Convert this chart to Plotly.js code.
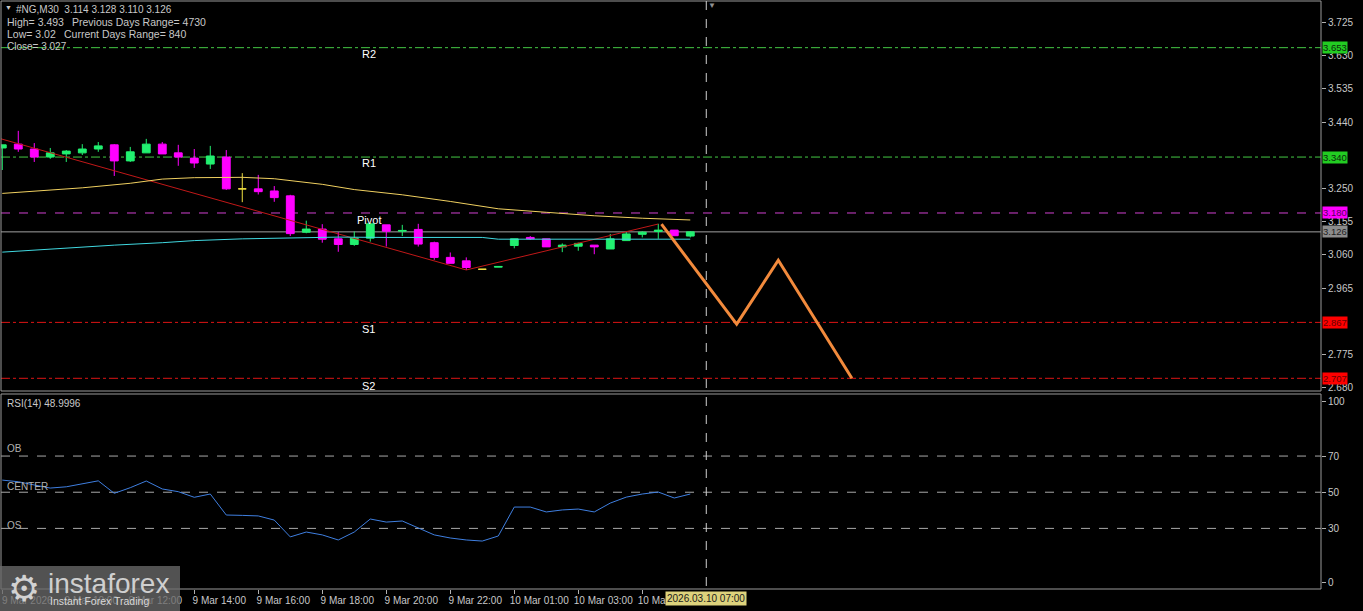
<!DOCTYPE html>
<html>
<head>
<meta charset="utf-8">
<script src="https://cdn.plot.ly/plotly-3.0.1.min.js"></script>
<style>
html,body{margin:0;padding:0;background:#000;}
#chart{width:1363px;height:611px;}
</style>
</head>
<body>
<div id="chart"></div>
<script>
// ---------- DATA ----------
const candleIdx = [0,1,2,3,4,5,6,7,8,9,10,11,12,13,14,15,16,17,18,19,20,21,22,23,24,25,26,27,28,29,30,31,32,33,34,35,36,37,38,39,40,41,42,43];
const opens  = [3.366,3.377,3.363,3.340,3.349,3.352,3.363,3.375,3.329,3.352,3.377,3.352,3.337,3.320,3.340,3.249,3.249,3.243,3.229,3.125,3.134,3.106,3.090,3.108,3.146,3.128,3.133,3.095,3.053,3.043,3.019,3.025,3.087,3.110,3.106,3.083,3.085,3.088,3.077,3.101,3.119,3.127,3.131,3.114];
const highs  = [3.375,3.415,3.380,3.366,3.360,3.377,3.383,3.377,3.369,3.392,3.383,3.375,3.363,3.372,3.360,3.294,3.289,3.257,3.232,3.158,3.148,3.125,3.127,3.149,3.146,3.146,3.149,3.098,3.067,3.053,3.019,3.027,3.106,3.114,3.106,3.093,3.095,3.088,3.120,3.127,3.128,3.149,3.131,3.128];
const lows   = [3.303,3.355,3.326,3.335,3.326,3.346,3.355,3.286,3.326,3.352,3.349,3.315,3.309,3.306,3.246,3.211,3.233,3.212,3.114,3.122,3.095,3.069,3.086,3.098,3.084,3.114,3.084,3.046,3.036,3.017,3.019,3.025,3.079,3.103,3.083,3.068,3.072,3.062,3.077,3.101,3.110,3.106,3.115,3.110];
const closes = [3.375,3.363,3.340,3.352,3.357,3.363,3.372,3.329,3.355,3.377,3.349,3.340,3.323,3.343,3.249,3.249,3.241,3.224,3.121,3.134,3.105,3.090,3.108,3.149,3.128,3.130,3.091,3.053,3.036,3.024,3.019,3.027,3.106,3.106,3.083,3.088,3.093,3.083,3.106,3.120,3.125,3.131,3.115,3.126];

const slowMaIdx = [0,3,5,8,10,12,15,17,20,22,25,28,31,34,37,40,43];
const slowMaVal = [3.236,3.246,3.252,3.265,3.277,3.281,3.282,3.278,3.262,3.247,3.232,3.213,3.192,3.182,3.172,3.165,3.160];
const fastMaIdx = [0,2,5,7,10,12,15,18,21,24,27,30,31,43];
const fastMaVal = [3.068,3.074,3.081,3.088,3.095,3.101,3.106,3.109,3.111,3.110,3.110,3.110,3.105,3.105];

const zigzagIdx = [-1,29,41];
const zigzagVal = [3.404,3.017,3.1485];

const forecastIdx = [41.2,45.9,48.5,53.1];
const forecastVal = [3.148,2.862,3.045,2.707];

const rsiVal = [56.7,55.8,54.0,52.3,53.0,54.5,56.3,49.4,52.5,56.2,51.8,50.3,47.2,49.0,37.4,37.2,36.9,34.6,25.3,28.0,26.4,23.6,28.0,35.2,33.5,34.1,30.2,26.4,24.7,23.6,23.0,25.8,41.8,41.8,39.1,40.2,40.7,39.1,44.0,47.3,49.0,50.1,46.8,49.0];

const levelNames  = ["R2","R1","Pivot","S1","S2"];
const levelValues = [3.653,3.340,3.180,2.867,2.707];
const lastClose = 3.126;

const priceTicks = [3.725,3.630,3.535,3.440,3.250,3.155,3.060,2.965,2.775,2.680];
const rsiTicks = [0,30,50,70,100];
const rsiLevels = [70,50,30];
const rsiLevelNames = ["OB","CENTER","OS"];

const timeTickIdx  = [0,4,8,12,16,20,24,28,32,36,40];
const timeTickText = ["9 Mar 2026","9 Mar 10:00","9 Mar 12:00","9 Mar 14:00","9 Mar 16:00","9 Mar 18:00","9 Mar 20:00","9 Mar 22:00","10 Mar 01:00","10 Mar 03:00","10 Mar 05:00"];
const cursorIdx = 44;
const cursorText = "2026.03.10 07:00";

// ---------- HELPERS ----------
const W=1363,H=611,ML=1,MR=42,MT=1,MB=22;
const PW=W-ML-MR, PH=H-MT-MB;
const xp = px => (px-ML)/PW;
const yp = py => (H-MB-py)/PH;
const FONT = '"Liberation Sans", Arial, sans-serif';
const TXT = '#c8c8c8';

// split dojis
const normIdx=[],nO=[],nH=[],nL=[],nC=[],dIdx=[],dO=[],dH=[],dL=[],dC=[];
candleIdx.forEach((x,i)=>{
  if(opens[i]===closes[i]){dIdx.push(x);dO.push(opens[i]);dH.push(highs[i]);dL.push(lows[i]);dC.push(closes[i]);}
  else {normIdx.push(x);nO.push(opens[i]);nH.push(highs[i]);nL.push(lows[i]);nC.push(closes[i]);}
});

const GREEN='#22f070', MAG='#ff00ff';
const traces = [
  {type:'scatter',mode:'lines',x:zigzagIdx,y:zigzagVal,line:{color:'#c01818',width:1},hoverinfo:'skip',xaxis:'x',yaxis:'y'},
  {type:'scatter',mode:'lines',x:slowMaIdx,y:slowMaVal,line:{color:'#f0d060',width:1},hoverinfo:'skip',xaxis:'x',yaxis:'y'},
  {type:'scatter',mode:'lines',x:fastMaIdx,y:fastMaVal,line:{color:'#40d8e0',width:1},hoverinfo:'skip',xaxis:'x',yaxis:'y'},
  {type:'candlestick',x:normIdx,open:nO,high:nH,low:nL,close:nC,
    increasing:{line:{color:GREEN,width:1},fillcolor:GREEN},
    decreasing:{line:{color:MAG,width:1},fillcolor:MAG},
    whiskerwidth:0,hoverinfo:'skip',xaxis:'x',yaxis:'y'},
  {type:'candlestick',x:dIdx,open:dO,high:dH,low:dL,close:dC,
    increasing:{line:{color:'#f0e040',width:1},fillcolor:'#f0e040'},
    decreasing:{line:{color:'#f0e040',width:1},fillcolor:'#f0e040'},
    whiskerwidth:0,hoverinfo:'skip',xaxis:'x',yaxis:'y'},
  {type:'scatter',mode:'lines',x:forecastIdx,y:forecastVal,line:{color:'#f28a3c',width:3},hoverinfo:'skip',xaxis:'x',yaxis:'y'},
  {type:'scatter',mode:'lines',x:candleIdx,y:rsiVal,line:{color:'#3f7fe0',width:1},hoverinfo:'skip',xaxis:'x',yaxis:'y2'}
];

const mainTop = yp(1), mainBot = yp(391), rsiTop = yp(394), rsiBot = yp(589);

const levelColors = ['#44c844','#44c844','#d040d0','#dd1414','#dd1414'];
const levelDash = ['dashdot','dashdot','dash','dashdot','dashdot'];
const labelBg = ['#22cc22','#22cc22','#ff00ff','#ff0000','#ff0000'];
const labelFg = ['#0a2a0a','#0a2a0a','#5a005a','#6a0000','#6a0000'];

const shapes = [];
shapes.push({type:'rect',xref:'paper',yref:'paper',x0:0,x1:1,y0:mainBot,y1:mainTop,line:{color:'#9a9a9a',width:1}});
shapes.push({type:'rect',xref:'paper',yref:'paper',x0:0,x1:1,y0:rsiBot,y1:rsiTop,line:{color:'#9a9a9a',width:1}});
levelValues.forEach((v,i)=>{
  shapes.push({type:'line',xref:'paper',yref:'y',x0:0,x1:1,y0:v,y1:v,layer:'below',line:{color:levelColors[i],width:1,dash:levelDash[i]}});
});
shapes.push({type:'line',xref:'paper',yref:'y',x0:0,x1:1,y0:lastClose,y1:lastClose,layer:'below',line:{color:'#a0a0a0',width:1}});
rsiLevels.forEach(v=>{
  shapes.push({type:'line',xref:'paper',yref:'y2',x0:0,x1:1,y0:v,y1:v,layer:'below',line:{color:'#a8a8a8',width:1,dash:'dash'}});
});
shapes.push({type:'line',xref:'x',yref:'paper',x0:cursorIdx,x1:cursorIdx,y0:yp(586),y1:mainTop,line:{color:'#d0d0d0',width:1,dash:'dash'}});
// logo box
shapes.push({type:'rect',xref:'paper',yref:'paper',x0:xp(0),x1:xp(180),y0:yp(611),y1:yp(566),fillcolor:'rgba(105,105,105,0.78)',line:{width:0},layer:'above'});

const ann = [];
function txt(px,py,text,size,color,anchor){
  ann.push({xref:'paper',yref:'paper',x:xp(px),y:yp(py),text:text,showarrow:false,xanchor:anchor||'left',yanchor:'middle',
    font:{family:FONT,size:size,color:color}});
}
txt(3,8,'▼',7,TXT);
txt(14,9,'#NG,M30  3.114 3.128 3.110 3.126',10,TXT);
txt(5,22,'High= 3.493',10.5,TXT);
txt(70,22,'Previous Days Range= 4730',10.5,TXT);
txt(5,34,'Low= 3.02',10.5,TXT);
txt(62,34,'Current Days Range= 840',10.5,TXT);
txt(5,46,'Close= 3.027',10,TXT);

// level names
const levelLabelY = [54,163,220,329,386];
levelNames.forEach((n,i)=>{
  ann.push({xref:'x',yref:'paper',x:22.9,y:yp(levelLabelY[i]),text:n,showarrow:false,xanchor:'center',yanchor:'middle',
    font:{family:FONT,size:11,color:'#ffffff'}});
});
// price labels at right axis
levelValues.forEach((v,i)=>{
  ann.push({xref:'paper',yref:'y',x:1,y:v,xshift:1,text:v.toFixed(3),showarrow:false,xanchor:'left',yanchor:'middle',
    bgcolor:labelBg[i],borderpad:0,font:{family:FONT,size:9.5,color:labelFg[i]}});
});
ann.push({xref:'paper',yref:'y',x:1,y:lastClose,xshift:1,text:lastClose.toFixed(3),showarrow:false,xanchor:'left',yanchor:'middle',
  bgcolor:'#8c8c8c',borderpad:0,font:{family:FONT,size:9.5,color:'#1e1e1e'}});

// RSI texts
txt(5,403,'RSI(14) 48.9996',10,TXT);
const rsiLabelY=[448,486,525];
rsiLevelNames.forEach((n,i)=>txt(5,rsiLabelY[i],n,10,'#b0b0b0'));

// cursor label
ann.push({xref:'x',yref:'paper',x:cursorIdx,y:yp(598),text:cursorText,showarrow:false,xanchor:'center',yanchor:'middle',
  bgcolor:'#ddd27c',borderpad:1,font:{family:FONT,size:10,color:'#1a1a1a'}});
// small triangle on top
ann.push({xref:'paper',yref:'paper',x:xp(712),y:yp(5),text:'▼',showarrow:false,xanchor:'center',yanchor:'middle',
  font:{family:FONT,size:8,color:'#909090'}});

// logo
txt(24,588,'⚙',36,'#d2d2d2','center');
txt(46,583,'instaforex',28,'#cfcfcf');
txt(48,601,'Instant Forex Trading',10.5,'#d8d8d8');

const layout = {
  width:W,height:H,
  margin:{l:ML,r:MR,t:MT,b:MB,pad:0},
  paper_bgcolor:'#000000',plot_bgcolor:'#000000',
  showlegend:false,
  hovermode:false,
  font:{family:FONT,color:TXT,size:10},
  xaxis:{range:[-0.08,82.42],anchor:'y2',showgrid:false,zeroline:false,showline:false,
    tickmode:'array',tickvals:timeTickIdx,ticktext:timeTickText,ticks:'outside',ticklen:4,tickcolor:'#b0b0b0',
    tickfont:{family:FONT,size:10,color:TXT},ticklabelshift:25,ticklabelstandoff:-2,rangeslider:{visible:false},fixedrange:true},
  yaxis:{domain:[mainBot,mainTop],range:[2.6707,3.7865],side:'right',showgrid:false,zeroline:false,showline:false,
    tickmode:'array',tickvals:priceTicks,ticktext:priceTicks.map(v=>v.toFixed(3)),ticks:'outside',ticklen:4,tickcolor:'#b0b0b0',
    tickfont:{family:FONT,size:10,color:TXT},fixedrange:true},
  yaxis2:{domain:[rsiBot,rsiTop],range:[-3.5,104.3],side:'right',showgrid:false,zeroline:false,showline:false,
    tickmode:'array',tickvals:rsiTicks,ticktext:rsiTicks.map(String),ticks:'outside',ticklen:4,tickcolor:'#b0b0b0',
    tickfont:{family:FONT,size:10,color:TXT},fixedrange:true},
  shapes:shapes,
  annotations:ann
};

Plotly.newPlot('chart',traces,layout,{staticPlot:true,displayModeBar:false});
</script>
</body>
</html>
